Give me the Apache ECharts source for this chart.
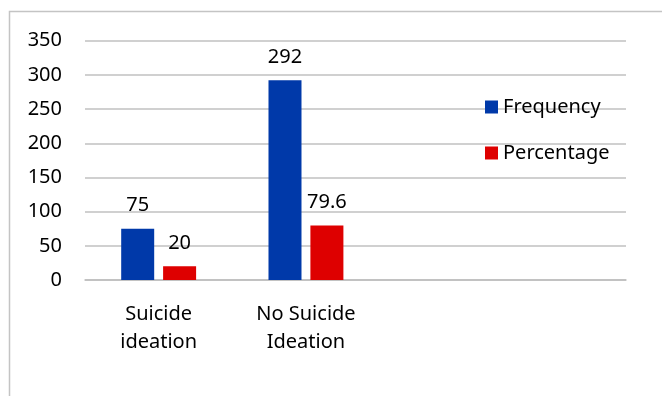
<!DOCTYPE html>
<html>
<head>
<meta charset="utf-8">
<script src="https://cdn.jsdelivr.net/npm/echarts@6/dist/echarts.min.js"></script>
<style>
  html, body { margin: 0; padding: 0; background: #fff; }
  #chart { width: 662px; height: 396px; }
</style>
</head>
<body>
<div id="chart"></div>
<script>
// Suicide ideation: frequency and percentage by group
const categories = ['Suicide\nideation', 'No Suicide\nIdeation'];
const seriesNames = ['Frequency', 'Percentage'];
const frequency = [75, 292];
const percentage = [20, 79.6];
const yTicks = { min: 0, max: 350, step: 50 };

const FONT = '"Noto Sans", "Open Sans", sans-serif';
const BLUE = '#0039a9';
const RED = '#de0000';
const GRID_TOP = 40.7;
const GRID_BOTTOM = 396 - 280;

const chart = echarts.init(document.getElementById('chart'), null, { renderer: 'canvas' });

chart.setOption({
  animation: false,
  backgroundColor: '#ffffff',
  color: [BLUE, RED],
  textStyle: { fontFamily: FONT },
  graphic: [{
    type: 'rect',
    shape: { x: 9.5, y: 11.5, width: 700, height: 420 },
    style: { fill: 'none', stroke: '#c4c4c4', lineWidth: 1.5 },
    silent: true,
    z: -10
  }],
  legend: {
    orient: 'vertical',
    left: 480,
    top: 92,
    itemWidth: 13,
    itemHeight: 13,
    itemGap: 26,
    icon: 'rect',
    textStyle: { fontFamily: FONT, fontSize: 20, color: '#000', padding: [0, 0, 0, 0] },
    data: seriesNames
  },
  grid: [
    // plot area holding the bars
    { left: 85, top: GRID_TOP, width: 294.6, bottom: GRID_BOTTOM, containLabel: false },
    // full-width area for the value axis and gridlines
    { left: 85, top: GRID_TOP, right: 36, bottom: GRID_BOTTOM, containLabel: false }
  ],
  xAxis: [
    {
      type: 'category',
      gridIndex: 0,
      data: categories,
      axisLine: { show: false },
      axisTick: { show: false },
      axisLabel: {
        fontFamily: FONT,
        fontSize: 20,
        color: '#000',
        lineHeight: 28,
        margin: 20
      }
    },
    {
      type: 'category',
      gridIndex: 1,
      data: [''],
      axisLine: { show: true, lineStyle: { color: '#bdbdbd', width: 1.5 } },
      axisTick: { show: false },
      axisLabel: { show: false }
    }
  ],
  yAxis: [
    {
      type: 'value',
      gridIndex: 0,
      min: yTicks.min,
      max: yTicks.max,
      interval: yTicks.step,
      axisLine: { show: false },
      axisTick: { show: false },
      axisLabel: { show: false },
      splitLine: { show: false }
    },
    {
      type: 'value',
      gridIndex: 1,
      min: yTicks.min,
      max: yTicks.max,
      interval: yTicks.step,
      axisLine: { show: false },
      axisTick: { show: false },
      axisLabel: { fontFamily: FONT, fontSize: 20, color: '#000', margin: 23 },
      splitLine: { show: true, lineStyle: { color: '#c0c0c0', width: 1.5 } }
    }
  ],
  series: [
    {
      name: seriesNames[0],
      type: 'bar',
      xAxisIndex: 0,
      yAxisIndex: 0,
      data: frequency,
      barWidth: 33,
      barGap: '27%',
      itemStyle: { color: BLUE },
      label: { show: true, position: 'top', distance: 13, fontFamily: FONT, fontSize: 20, color: '#000' }
    },
    {
      name: seriesNames[1],
      type: 'bar',
      xAxisIndex: 0,
      yAxisIndex: 0,
      data: percentage,
      barWidth: 33,
      barGap: '27%',
      itemStyle: { color: RED },
      label: { show: true, position: 'top', distance: 13, fontFamily: FONT, fontSize: 20, color: '#000' }
    }
  ]
});
</script>
</body>
</html>
